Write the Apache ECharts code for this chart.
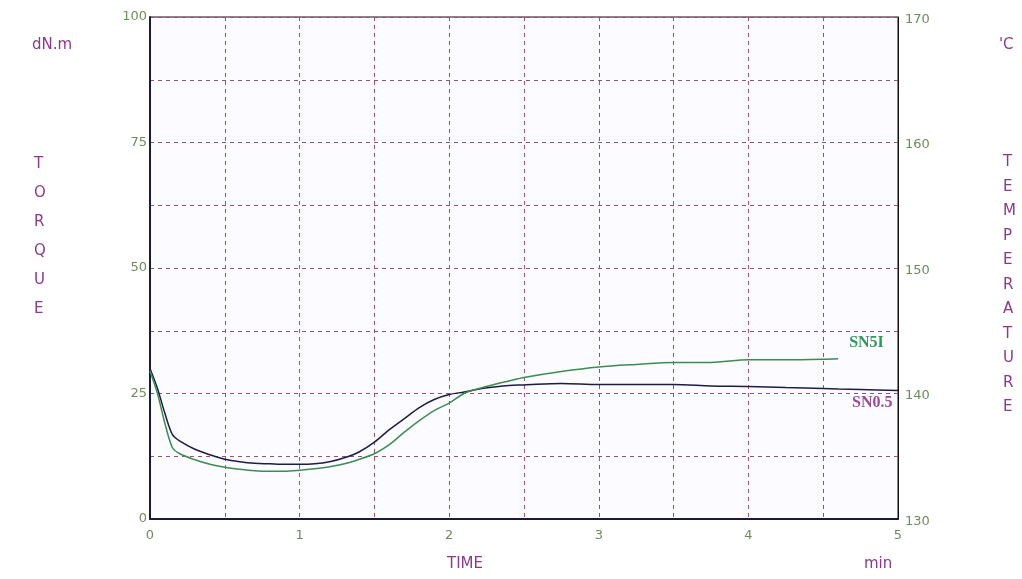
<!DOCTYPE html>
<html>
<head>
<meta charset="utf-8">
<script src="https://cdn.jsdelivr.net/npm/echarts@6/dist/echarts.min.js"></script>
<style>
html, body { margin: 0; padding: 0; background: #ffffff; }
#main { width: 1022px; height: 579px; }
</style>
</head>
<body>
<div id="main"></div>
<script>
var time = [0, 0.05, 0.1, 0.15, 0.2, 0.3, 0.4, 0.5, 0.6, 0.7, 0.8, 0.9, 1.0, 1.1, 1.2, 1.3, 1.4, 1.5, 1.6, 1.7, 1.8, 1.9, 2.0, 2.1, 2.2, 2.3, 2.4, 2.5, 2.75, 3.0, 3.25, 3.5, 3.75, 4.0, 4.25, 4.5, 4.6, 4.75, 5.0];
var sn05 = [30, 26, 21, 16.8, 15.5, 13.9, 12.8, 11.9, 11.4, 11.1, 11.0, 10.9, 10.9, 11.0, 11.4, 12.2, 13.4, 15.3, 17.8, 20.0, 22.2, 23.8, 24.8, 25.3, 25.9, 26.3, 26.6, 26.7, 27.0, 26.8, 26.8, 26.8, 26.5, 26.4, 26.2, 26.0, 25.9, 25.8, 25.6];
var sn5i = [29.5, 25, 19, 14.2, 13.0, 11.8, 10.9, 10.3, 9.9, 9.6, 9.5, 9.5, 9.7, 10.0, 10.4, 11.0, 11.9, 13.0, 14.8, 17.3, 19.6, 21.6, 23.1, 25.0, 26.0, 26.8, 27.5, 28.2, 29.4, 30.3, 30.8, 31.2, 31.2, 31.7, 31.7, 31.8, 31.9, null, null];
var torqueTicks = [0, 25, 50, 75, 100];
var tempTicks = [130, 140, 150, 160, 170];
var timeTicks = [0, 1, 2, 3, 4, 5];

function pairs(ys) {
    var out = [];
    for (var i = 0; i < time.length; i++) {
        if (ys[i] != null) out.push([time[i], ys[i]]);
    }
    return out;
}

var tickColor = '#6f8c5e';
var titleColor = '#8a3a8a';
var gridColor = '#a0506e';
var font = 'DejaVu Sans';

var c = echarts.init(document.getElementById('main'));
var option = {
    backgroundColor: '#ffffff',
    animation: false,
    grid: {
        left: 150, right: 124, top: 17, bottom: 60,
        show: true, backgroundColor: '#fcfbff', borderColor: '#111111', borderWidth: 1
    },
    xAxis: {
        type: 'value', min: 0, max: 5, interval: 0.5,
        axisLine: { show: true, lineStyle: { color: '#1a1a40', width: 2 } },
        axisTick: { show: false },
        axisLabel: {
            color: tickColor, fontFamily: font, fontSize: 13, margin: 10,
            formatter: function (v) { return timeTicks.indexOf(v) >= 0 ? String(v) : ''; }
        },
        splitLine: { show: true, lineStyle: { color: gridColor, type: [4, 4], width: 1 } }
    },
    yAxis: [{
        type: 'value', min: 0, max: 100, interval: 12.5,
        axisLine: { show: true, lineStyle: { color: '#1a1a40', width: 2 } },
        axisTick: { show: false },
        axisLabel: {
            color: tickColor, fontFamily: font, fontSize: 13, margin: 3,
            formatter: function (v) { return torqueTicks.indexOf(v) >= 0 ? String(v) : ''; }
        },
        splitLine: { show: true, lineStyle: { color: gridColor, type: [4, 4], width: 1 } }
    }, {
        type: 'value', min: 130, max: 170, interval: 5, position: 'right',
        axisLine: { show: true, onZero: false, lineStyle: { color: '#111111', width: 1 } },
        axisTick: { show: false },
        axisLabel: {
            color: tickColor, fontFamily: font, fontSize: 13, margin: 7,
            verticalAlign: 'top', padding: [-4, 0, 0, 0],
            formatter: function (v) { return tempTicks.indexOf(v) >= 0 ? String(v) : ''; }
        },
        splitLine: { show: false }
    }],
    series: [{
        name: 'SN0.5', type: 'line', smooth: 0.3, showSymbol: false,
        data: pairs(sn05),
        lineStyle: { color: '#1c1c48', width: 1.5 },
        endLabel: {
            show: true, formatter: 'SN0.5', color: '#9a4a9a',
            fontFamily: 'Liberation Serif', fontWeight: 'bold', fontSize: 16,
            offset: [-54, 12]
        }
    }, {
        name: 'SN5I', type: 'line', smooth: 0.3, showSymbol: false,
        data: pairs(sn5i),
        lineStyle: { color: '#3d8c52', width: 1.5 },
        endLabel: {
            show: true, formatter: 'SN5I', color: '#2e9a5a',
            fontFamily: 'Liberation Serif', fontWeight: 'bold', fontSize: 16,
            offset: [3, -16]
        }
    }],
    graphic: [
        { type: 'text', left: 32, top: 38, style: { text: 'dN.m', fill: titleColor, font: '15px DejaVu Sans' } },
        { type: 'text', left: 34, top: 150, style: { text: 'T\nO\nR\nQ\nU\nE', fill: titleColor, font: '15px DejaVu Sans', lineHeight: 29, align: 'center', x: 7 } },
        { type: 'text', left: 999, top: 38, style: { text: "'C", fill: titleColor, font: '15px DejaVu Sans' } },
        { type: 'text', left: 1003, top: 150, style: { text: 'T\nE\nM\nP\nE\nR\nA\nT\nU\nR\nE', fill: titleColor, font: '15px DejaVu Sans', lineHeight: 24.5, align: 'center', x: 7 } },
        { type: 'text', left: 447, top: 557, style: { text: 'TIME', fill: titleColor, font: '15px DejaVu Sans' } },
        { type: 'text', left: 864, top: 557, style: { text: 'min', fill: titleColor, font: '15px DejaVu Sans' } }
    ]
};
c.setOption(option);
</script>
</body>
</html>
